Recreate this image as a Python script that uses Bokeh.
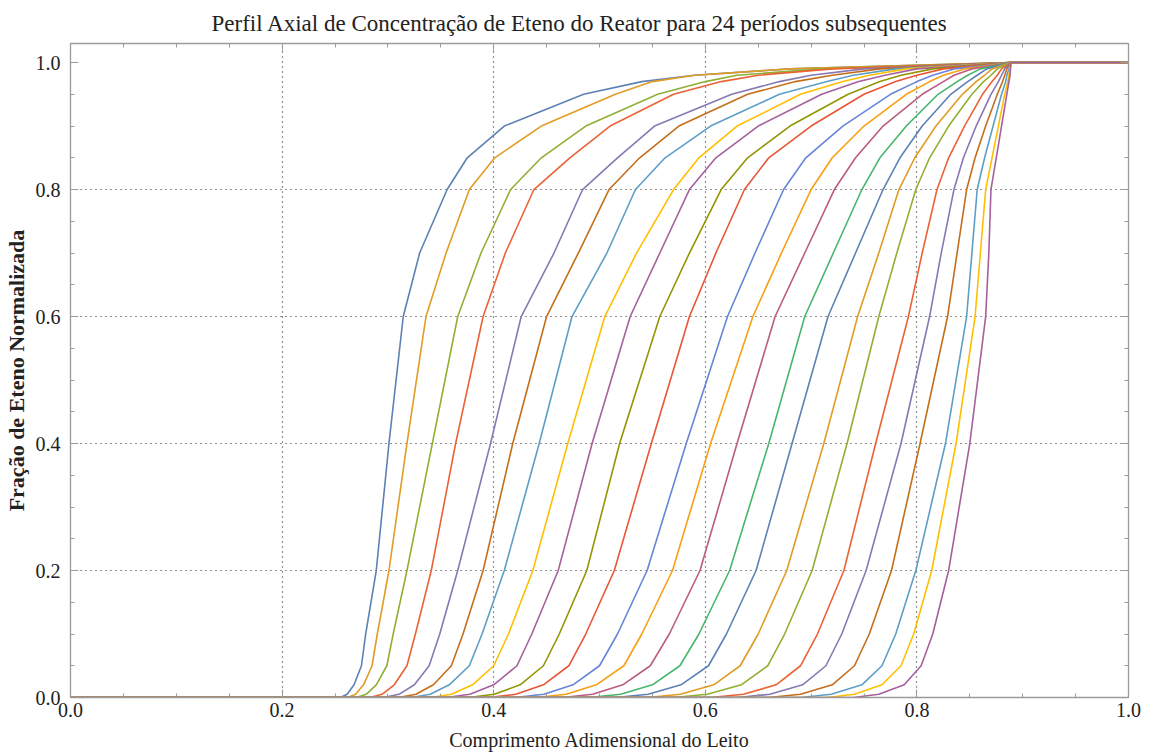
from bokeh.plotting import figure
from bokeh.models import Range1d, FixedTicker, LinearAxis, CustomJSTickFormatter
from bokeh.embed import file_html
from bokeh.resources import INLINE

# ---- data ----
# fraction levels (y) at which the x-position of each curve was read
y_levels = [0.0, 0.0, 0.005, 0.02, 0.05, 0.1, 0.2, 0.4, 0.6, 0.7, 0.8, 0.85,
            0.9, 0.95, 0.97, 0.98, 0.99, 1.0, 1.0]

x_start = [0.255,0.262,0.270,0.283,0.296,0.310,0.322,0.340,0.355,0.376,0.395,0.420,
           0.440,0.465,0.490,0.515,0.545,0.570,0.605,0.630,0.660,0.690,0.715,0.740]
x_0005 = [0.2615,0.2695,0.2795,0.2945,0.3105,0.3265,0.340,0.360,0.3775,0.4005,0.421,0.4475,
          0.4685,0.4935,0.520,0.546,0.5765,0.602,0.636,0.661,0.690,0.719,0.741,0.764]
x_002 = [0.268,0.277,0.289,0.306,0.325,0.343,0.358,0.380,0.400,0.425,0.447,0.475,
         0.497,0.522,0.550,0.577,0.608,0.634,0.667,0.692,0.720,0.748,0.767,0.788]
x_005 = [0.275,0.285,0.299,0.318,0.339,0.360,0.377,0.400,0.422,0.447,0.471,0.500,
         0.523,0.548,0.576,0.603,0.633,0.659,0.690,0.714,0.741,0.767,0.785,0.804]
x_010 = [0.279,0.290,0.305,0.326,0.349,0.371,0.389,0.414,0.436,0.462,0.487,0.517,
         0.540,0.566,0.594,0.620,0.650,0.675,0.706,0.729,0.755,0.780,0.797,0.815]
x_020 = [0.289,0.301,0.318,0.341,0.366,0.390,0.410,0.437,0.461,0.488,0.514,0.545,
         0.569,0.595,0.623,0.648,0.677,0.701,0.731,0.752,0.776,0.799,0.814,0.830]
x_040 = [0.301,0.318,0.342,0.364,0.397,0.418,0.443,0.470,0.493,0.519,0.549,0.582,
         0.605,0.630,0.660,0.682,0.712,0.734,0.761,0.785,0.803,0.827,0.837,0.850]
x_060 = [0.3145,0.336,0.366,0.390,0.426,0.450,0.474,0.505,0.529,0.557,0.585,0.621,
         0.645,0.666,0.694,0.716,0.744,0.764,0.792,0.812,0.829,0.847,0.855,0.865]
x_070 = [0.330,0.355,0.388,0.411,0.457,0.480,0.507,0.535,0.557,0.585,0.610,0.647,
         0.672,0.694,0.721,0.742,0.764,0.781,0.805,0.823,0.838,0.852,0.860,0.868]
x_080 = [0.356,0.377,0.416,0.438,0.484,0.509,0.534,0.570,0.585,0.615,0.637,0.674,
         0.700,0.722,0.748,0.768,0.783,0.799,0.819,0.835,0.847,0.857,0.865,0.870]
x_085 = [0.375,0.401,0.445,0.472,0.517,0.538,0.562,0.594,0.610,0.640,0.660,0.695,
         0.720,0.742,0.765,0.784,0.798,0.812,0.830,0.844,0.855,0.864,0.871,0.875]
x_090 = [0.410,0.445,0.487,0.510,0.552,0.575,0.605,0.630,0.650,0.680,0.700,0.730,
         0.750,0.768,0.790,0.805,0.818,0.830,0.845,0.856,0.865,0.872,0.877,0.880]
x_095 = [0.485,0.515,0.555,0.570,0.625,0.640,0.670,0.690,0.710,0.735,0.750,0.775,
         0.790,0.805,0.820,0.832,0.843,0.852,0.862,0.870,0.876,0.880,0.883,0.885]
x_097 = [0.540,0.550,0.600,0.615,0.670,0.685,0.715,0.730,0.745,0.765,0.780,0.800,
         0.812,0.825,0.838,0.848,0.856,0.863,0.871,0.877,0.881,0.884,0.886,0.887]
x_098 = [0.590,0.590,0.630,0.650,0.700,0.720,0.740,0.755,0.770,0.785,0.800,0.815,
         0.825,0.835,0.848,0.857,0.864,0.870,0.876,0.880,0.883,0.885,0.887,0.888]
x_099 = [0.680,0.680,0.710,0.720,0.750,0.765,0.780,0.790,0.800,0.815,0.825,0.835,
         0.845,0.852,0.860,0.866,0.871,0.876,0.880,0.883,0.885,0.887,0.888,0.8885]
x_full = 0.889   # where every profile reaches 1.0
x_max = 1.0

colors = ["#5E81B5", "#E19C24", "#8FB032", "#EB6235", "#8778B3", "#C56E1A",
          "#5D9EC7", "#FFBF00", "#A5609D", "#929600", "#E95536", "#6685D9",
          "#F89F13", "#BC5B80", "#47B66D", "#5E81B5", "#E19C24", "#8FB032",
          "#EB6235", "#8778B3", "#C56E1A", "#5D9EC7", "#FFBF00", "#A5609D"]

x_ticks = [0.0, 0.2, 0.4, 0.6, 0.8, 1.0]
y_ticks = [0.0, 0.2, 0.4, 0.6, 0.8, 1.0]
minor = [i * 0.05 for i in range(21)]
grid_ticks = [0.2, 0.4, 0.6, 0.8]

title = "Perfil Axial de Concentração de Eteno do Reator para 24 períodos subsequentes"
xlabel = "Comprimento Adimensional do Leito"
ylabel = "Fração de Eteno Normalizada"

SERIF = "Liberation Serif"

p = figure(width=1153, height=753, output_backend="svg", toolbar_location=None,
           x_range=Range1d(0, 1.0), y_range=Range1d(0, 1.03),
           min_border_left=67, min_border_right=25, min_border_top=42, min_border_bottom=55)
p.background_fill_color = "white"
p.border_fill_color = "white"
p.outline_line_color = None

p.title.text = title
p.title.align = "left"
p.title.text_font = SERIF
p.title.text_font_size = "23px"
p.title.text_font_style = "normal"
p.title.text_color = "#222222"
p.title.offset = 141
p.title.standoff = 16

for i in range(24):
    xs = [0.0, x_start[i], x_0005[i], x_002[i], x_005[i], x_010[i], x_020[i], x_040[i],
          x_060[i], x_070[i], x_080[i], x_085[i], x_090[i], x_095[i], x_097[i], x_098[i],
          x_099[i], x_full, x_max]
    p.line(xs, y_levels, line_color=colors[i], line_width=1.6, line_join="round")

fmt = CustomJSTickFormatter(code="return tick.toFixed(1);")

def style_axis(ax, show_labels=True):
    ax.axis_line_color = "#9a9a9a"
    ax.axis_line_width = 1.3
    ax.major_tick_line_color = "#9a9a9a"
    ax.minor_tick_line_color = "#9a9a9a"
    ax.major_tick_in = 8
    ax.major_tick_out = 0
    ax.minor_tick_in = 4
    ax.minor_tick_out = 0
    ax.major_label_text_font = SERIF
    ax.major_label_text_font_size = "20px"
    ax.major_label_text_color = "#222222"
    ax.formatter = fmt
    if not show_labels:
        ax.major_label_text_alpha = 0
        ax.major_label_text_font_size = "1px"
        ax.major_label_standoff = 0

p.xaxis.ticker = FixedTicker(ticks=x_ticks, minor_ticks=minor)
p.yaxis.ticker = FixedTicker(ticks=y_ticks, minor_ticks=minor)
style_axis(p.xaxis[0])
style_axis(p.yaxis[0])
p.xaxis.major_label_standoff = 5
p.yaxis.major_label_standoff = 10
p.xaxis.axis_label = xlabel
p.yaxis.axis_label = ylabel
p.xaxis.axis_label_text_font = SERIF
p.yaxis.axis_label_text_font = SERIF
p.xaxis.axis_label_text_font_size = "20px"
p.yaxis.axis_label_text_font_size = "22px"
p.xaxis.axis_label_text_font_style = "normal"
p.yaxis.axis_label_text_font_style = "bold"
p.xaxis.axis_label_text_color = "#222222"
p.yaxis.axis_label_text_color = "#222222"
p.xaxis.axis_label_standoff = 9
p.yaxis.axis_label_standoff = 4

top = LinearAxis(ticker=FixedTicker(ticks=x_ticks, minor_ticks=minor))
right = LinearAxis(ticker=FixedTicker(ticks=y_ticks, minor_ticks=minor))
style_axis(top, False)
style_axis(right, False)
p.add_layout(top, "above")
p.add_layout(right, "right")

p.xgrid.ticker = FixedTicker(ticks=grid_ticks)
p.ygrid.ticker = FixedTicker(ticks=grid_ticks)
for g in (p.xgrid[0], p.ygrid[0]):
    g.grid_line_color = "#111111"
    g.grid_line_dash = "1 4"
    g.grid_line_width = 1.2
    g.grid_line_alpha = 0.9

open("out.html", "w").write(file_html(p, INLINE))
